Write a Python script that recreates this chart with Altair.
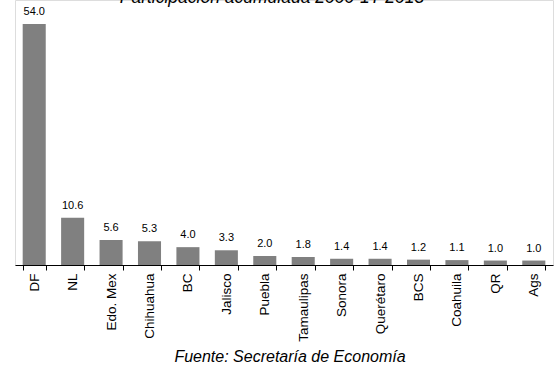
import altair as alt
import pandas as pd

# Participación acumulada por entidad federativa (%)
estados = ["DF", "NL", "Edo. Mex", "Chihuahua", "BC", "Jalisco", "Puebla",
           "Tamaulipas", "Sonora", "Querétaro", "BCS", "Coahuila", "QR", "Ags"]
participacion = [54.0, 10.6, 5.6, 5.3, 4.0, 3.3, 2.0, 1.8, 1.4, 1.4, 1.2, 1.1, 1.0, 1.0]

titulo = "Participación acumulada 2000-1T 2013"
fuente = "Fuente: Secretaría de Economía"

df = pd.DataFrame({"estado": estados, "valor": participacion})

W, H = 538, 265
FONT = "Liberation Sans"

x_enc = alt.X(
    "estado:N",
    sort=estados,
    title=None,
    scale=alt.Scale(paddingInner=0.4, paddingOuter=0.2),
    axis=alt.Axis(
        labelAngle=270,
        labelAlign="right",
        labelBaseline="middle",
        labelFont=FONT,
        labelFontSize=13.5,
        labelColor="black",
        labelPadding=3,
        tickBand="extent",
        tickColor="black",
        tickSize=5,
        domainColor="black",
        grid=False,
    ),
)
y_enc = alt.Y("valor:Q", scale=alt.Scale(domain=[0, 59.4], nice=False), axis=None)

base = alt.Chart(df)

bars = base.mark_bar(color="#808080").encode(x=x_enc, y=y_enc)

labels = base.mark_text(
    baseline="alphabetic", dy=-9, font=FONT, fontSize=11, color="black"
).encode(x=x_enc, y=y_enc, text=alt.Text("valor:Q", format=".1f"))

title_mark = alt.Chart(pd.DataFrame({"t": [titulo]})).mark_text(
    font=FONT, fontSize=17.5, fontStyle="italic", baseline="alphabetic", align="center",
    color="black",
).encode(x=alt.value(257), y=alt.value(3), text="t:N")

footer = alt.Chart(pd.DataFrame({"t": [fuente]})).mark_text(
    font=FONT, fontSize=16, fontStyle="italic", baseline="alphabetic", align="center",
    color="black",
).encode(x=alt.value(275), y=alt.value(362), text="t:N")

chart = (
    alt.layer(bars, labels, title_mark, footer)
    .properties(
        width=W,
        height=H,
        autosize=alt.AutoSizeParams(type="none"),
        padding={"left": 15, "top": 0, "right": 2, "bottom": 102},
    )
    .configure_view(stroke=None)
    .configure(background="white")
)

chart.save("out.html", embed_options={"renderer": "svg", "actions": False})
